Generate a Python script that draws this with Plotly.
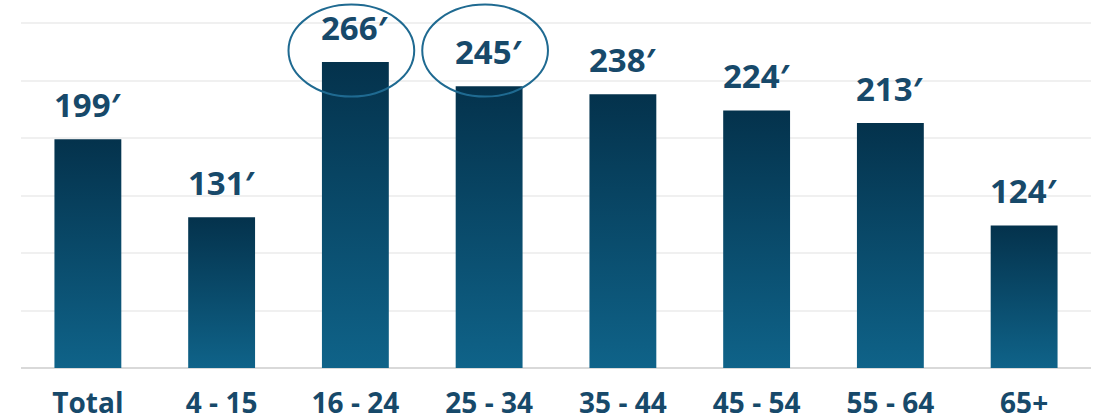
import plotly.graph_objects as go

categories = ["Total", "4 - 15", "16 - 24", "25 - 34", "35 - 44", "45 - 54", "55 - 64", "65+"]
values = [199, 131, 266, 245, 238, 224, 213, 124]
value_labels = ["199′", "131′", "266′", "245′", "238′", "224′", "213′", "124′"]
highlighted = ["16 - 24", "25 - 34"]

TEXT_COLOR = "#17496a"
FONT = "Open Sans"

fig = go.Figure()
fig.add_trace(go.Bar(
    x=categories, y=values,
    marker=dict(color="#0a4a6c", line=dict(width=0)),
    hoverinfo="skip",
))

for c, v, t in zip(categories, values, value_labels):
    fig.add_annotation(
        x=c, y=v, text=t, showarrow=False, yanchor="bottom", yshift=10,
        font=dict(family=FONT, size=33, color=TEXT_COLOR, weight="bold"),
    )

for c in highlighted:
    i = categories.index(c)
    fig.add_shape(
        type="circle", xref="x", yref="y",
        x0=i - 0.5, x1=i + 0.44, y0=236, y1=316,
        line=dict(color="#1f6a91", width=2), fillcolor="rgba(0,0,0,0)",
        layer="above",
    )

fig.update_layout(
    width=1099, height=420,
    margin=dict(l=21, r=8, t=0, b=52),
    paper_bgcolor="white", plot_bgcolor="white",
    bargap=0.5, showlegend=False, hovermode=False,
    xaxis=dict(
        showgrid=False, zeroline=False, showline=False, automargin=False,
        ticks="", ticklabelstandoff=16,
        tickfont=dict(family=FONT, size=28, color=TEXT_COLOR, weight="bold"),
    ),
    yaxis=dict(
        range=[0, 320], dtick=50, showticklabels=False, automargin=False,
        showgrid=True, gridcolor="#f0f0f0", gridwidth=2,
        zeroline=True, zerolinecolor="#d9d9d9", zerolinewidth=2,
        showline=False,
    ),
)

post = """
document.body.style.margin = '0';
document.body.style.padding = '0';
document.body.style.overflow = 'hidden';
var gd = document.getElementById('{plot_id}');
function applyGrad() {
  var ns = 'http://www.w3.org/2000/svg';
  var svg = gd.querySelector('svg.main-svg');
  if (!svg) return;
  var defs = svg.querySelector('defs');
  if (!document.getElementById('bargrad')) {
    var lg = document.createElementNS(ns, 'linearGradient');
    lg.setAttribute('id', 'bargrad');
    lg.setAttribute('x1', '0'); lg.setAttribute('y1', '0');
    lg.setAttribute('x2', '0'); lg.setAttribute('y2', '1');
    var s1 = document.createElementNS(ns, 'stop');
    s1.setAttribute('offset', '0'); s1.setAttribute('stop-color', '#04324c');
    var s2 = document.createElementNS(ns, 'stop');
    s2.setAttribute('offset', '1'); s2.setAttribute('stop-color', '#0f6389');
    lg.appendChild(s1); lg.appendChild(s2);
    defs.appendChild(lg);
  }
  gd.querySelectorAll('.bars .point path').forEach(function(p) {
    p.style.fill = 'url(#bargrad)';
  });
}
applyGrad();
gd.on('plotly_afterplot', applyGrad);
"""

fig.write_html("out.html", post_script=post,
               config={"displayModeBar": False, "staticPlot": True})
